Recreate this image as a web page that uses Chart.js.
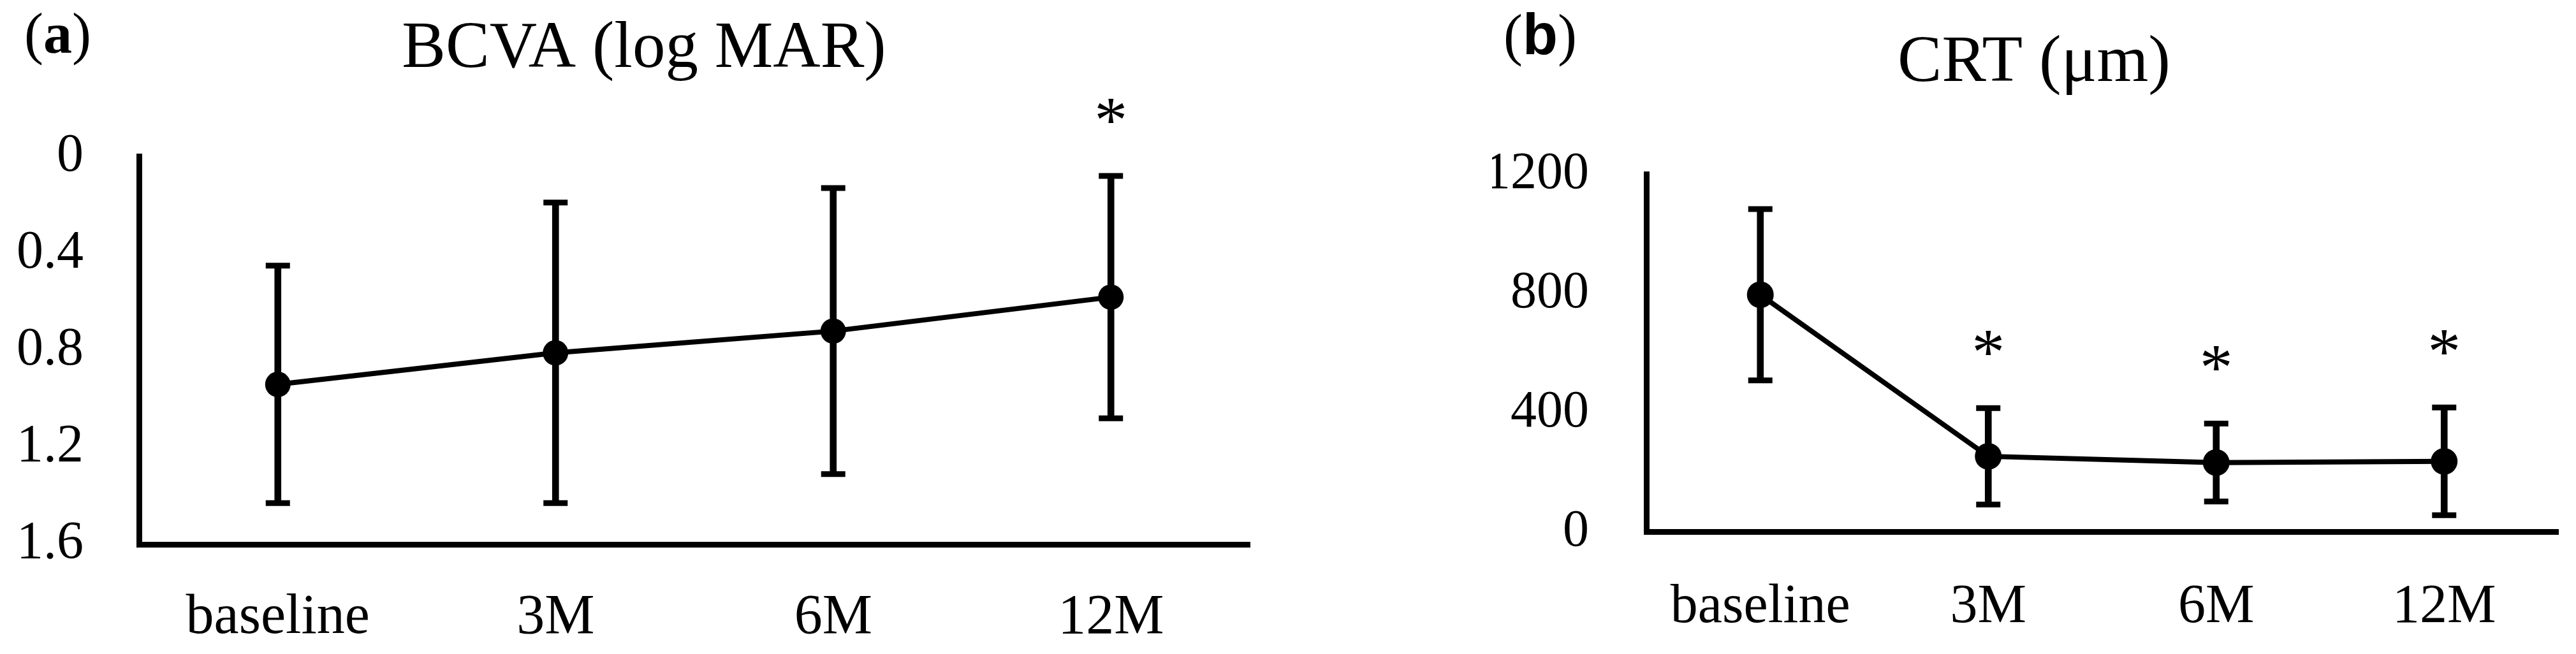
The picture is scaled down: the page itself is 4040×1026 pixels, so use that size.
<!DOCTYPE html>
<html>
<head>
<meta charset="utf-8">
<script src="https://cdn.jsdelivr.net/npm/chart.js@4.4.0/dist/chart.umd.min.js"></script>
<style>
  html, body { margin: 0; padding: 0; background: #fff; }
  body { width: 4040px; height: 1026px; position: relative; overflow: hidden; }
  canvas { position: absolute; top: 0; }
  .tag { position: absolute; font-family: "Liberation Serif", serif; line-height: 1; color: #000; white-space: nowrap; }
  .tag .sans { font-family: "Liberation Sans", sans-serif; }
</style>
</head>
<body>
<canvas id="ch-bcva" width="2020" height="1026" style="left:0"></canvas>
<canvas id="ch-crt" width="1700" height="1026" style="left:2340px"></canvas>
<div class="tag" style="left:38px; top:8px; font-size:90px;">(<b>a</b>)</div>
<div class="tag" style="left:2358px; top:9px; font-size:90px;">(<b class="sans">b</b>)</div>
<script>
// categorias comuns aos dois painéis
const xLabels = ['baseline', '3M', '6M', '12M'];

// (a) BCVA - média e desvio padrão
const bcvaMean  = [0.94, 0.81, 0.72, 0.58];
const bcvaSD    = [0.49, 0.62, 0.59, 0.50];
const bcvaSig   = ['', '', '', '*'];
const bcvaTicks = [0, 0.4, 0.8, 1.2, 1.6];

// (b) CRT - média e desvio padrão
const crtMean  = [796, 253, 232, 236];
const crtSD    = [288, 162, 131, 181];
const crtSig   = ['', '*', '*', '*'];
const crtTicks = [0, 400, 800, 1200];

const FONT = '"Liberation Serif", "Times New Roman", serif';

// asteriscos acima da barra de erro
const starPlugin = {
  id: 'stars',
  afterDatasetsDraw(chart, args, opts) {
    const { ctx, scales: { x, y } } = chart;
    ctx.save();
    ctx.font = `${opts.size}px ${FONT}`;
    ctx.textAlign = 'center';
    ctx.textBaseline = 'alphabetic';
    ctx.fillStyle = '#000';
    opts.marks.forEach((m, i) => {
      if (!m) return;
      const lo = opts.mean[i] - opts.sd[i];
      const hi = opts.mean[i] + opts.sd[i];
      const top = Math.min(y.getPixelForValue(lo), y.getPixelForValue(hi));
      ctx.fillText(m, x.getPixelForValue(i), top - opts.gap + opts.size * 0.47);
    });
    ctx.restore();
  }
};

function buildConfig(o) {
  const lows = o.mean.map((m, i) => m - o.sd[i]);
  const highs = o.mean.map((m, i) => m + o.sd[i]);
  return {
    type: 'bar',
    data: {
      labels: xLabels,
      datasets: [
        {
          type: 'line',
          data: o.mean,
          borderColor: '#000',
          borderWidth: o.lineW,
          tension: 0,
          pointRadius: o.radius,
          pointBackgroundColor: '#000',
          pointBorderWidth: 0,
          order: 0
        },
        {
          type: 'line',
          data: lows,
          showLine: false,
          pointStyle: 'line',
          pointRadius: 19,
          pointBorderWidth: 9,
          pointBorderColor: '#000',
          order: 1
        },
        {
          type: 'line',
          data: highs,
          showLine: false,
          pointStyle: 'line',
          pointRadius: 19,
          pointBorderWidth: 9,
          pointBorderColor: '#000',
          order: 1
        },
        {
          type: 'bar',
          data: lows.map((l, i) => [l, highs[i]]),
          backgroundColor: '#000',
          borderWidth: 0,
          barThickness: 10,
          order: 2
        }
      ]
    },
    options: {
      responsive: false,
      animation: false,
      layout: { padding: 0 },
      plugins: {
        legend: { display: false },
        tooltip: { enabled: false },
        title: {
          display: true,
          text: o.title,
          color: '#000',
          font: { family: FONT, size: o.titleSize, weight: 'normal' },
          padding: o.titlePad
        },
        stars: { marks: o.sig, mean: o.mean, sd: o.sd, size: 104, gap: 102 }
      },
      scales: {
        x: {
          offset: true,
          grid: { display: false, drawTicks: false },
          border: { display: true, color: '#000', width: 9 },
          ticks: { color: '#000', font: { family: FONT, size: o.xSize }, padding: o.xPad, maxRotation: 0 },
          afterFit(s) { s.height = o.xHeight; }
        },
        y: {
          min: o.ticks[0],
          max: o.ticks[o.ticks.length - 1],
          reverse: o.reverse,
          grid: { display: false, drawTicks: false },
          border: { display: true, color: '#000', width: 9 },
          ticks: { color: '#000', font: { family: FONT, size: o.ySize }, padding: o.yPad, callback: v => String(v) },
          afterBuildTicks(s) { s.ticks = o.ticks.map(v => ({ value: v })); },
          afterFit(s) { s.width = o.yWidth; }
        },
        // eixo vazio à direita: só reserva espaço, assim o título fica centrado no canvas
        spacer: {
          position: 'right',
          grid: { display: false, drawTicks: false },
          border: { display: false },
          ticks: { display: false },
          afterFit(s) { s.width = o.padRight; }
        }
      }
    },
    plugins: [starPlugin]
  };
}

new Chart(document.getElementById('ch-bcva'), buildConfig({
  title: 'BCVA (log MAR)', titleSize: 103, titlePad: { top: 16, bottom: 106 },
  mean: bcvaMean, sd: bcvaSD, sig: bcvaSig, ticks: bcvaTicks, reverse: true,
  lineW: 8, radius: 20, padRight: 60, yWidth: 218, yPad: 87, ySize: 84,
  xHeight: 172, xPad: 63, xSize: 88
}));

new Chart(document.getElementById('ch-crt'), buildConfig({
  title: 'CRT (μm)', titleSize: 104, titlePad: { top: 37, bottom: 112 },
  mean: crtMean, sd: crtSD, sig: crtSig, ticks: crtTicks, reverse: false,
  lineW: 8, radius: 21, padRight: 25, yWidth: 242, yPad: 90, ySize: 82,
  xHeight: 192, xPad: 68, xSize: 86
}));
</script>
</body>
</html>
